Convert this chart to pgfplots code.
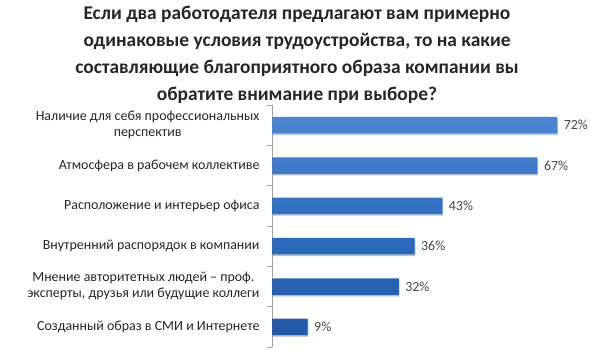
\documentclass[border=0pt]{standalone}
\usepackage{pgfplots}
\pgfplotsset{compat=1.18}
\usetikzlibrary{shadows}
\usepackage{fontspec}
\setmainfont{Carlito}
\definecolor{bartop}{RGB}{78,132,210}
\definecolor{barmid}{RGB}{46,108,190}
\definecolor{barbot}{RGB}{36,88,165}
\definecolor{txt}{RGB}{38,38,38}
\definecolor{axgray}{RGB}{160,160,160}
\begin{document}
\begin{tikzpicture}
\fill[white] (0,0) rectangle (600bp,361bp);
\node[font=\fontsize{19.5}{27}\selectfont\bfseries, align=center, text=txt, anchor=north] at (297bp,358bp)
{Если два работодателя предлагают вам примерно\\одинаковые условия трудоустройства, то на какие\\составляющие благоприятного образа компании вы\\обратите внимание при выборе?};
\begin{axis}[
  at={(272bp,14bp)}, anchor=south west,
  scale only axis, width=317bp, height=242bp,
  xbar, bar width=16.5bp,
  xmin=0, xmax=80,
  ymin=-0.5, ymax=5.5, y dir=reverse,
  axis x line=none,
  axis y line*=left,
  y axis line style={axgray, line width=0.6pt},
  ytick={0,1,2,3,4,5},
  yticklabels={{\begin{tabular}{@{}c@{}}Наличие для себя профессиональных\\перспектив\end{tabular}},
    {Атмосфера в рабочем коллективе},
    {Расположение и интерьер офиса},
    {Внутренний распорядок в компании},
    {\begin{tabular}{@{}c@{}}Мнение авторитетных людей -- проф.\\эксперты, друзья или будущие коллеги\end{tabular}},
    {Созданный образ в СМИ и Интернете}},
  yticklabel style={font=\fontsize{14}{16}\selectfont, text=txt, xshift=-9bp},
  major tick length=0pt,
  minor ytick={-0.5,0.5,1.5,2.5,3.5,4.5,5.5},
  minor tick length=5bp,
  tick align=outside,
  minor tick style={axgray, line width=0.6pt},
  /pgf/number format/assume math mode=true,
  nodes near coords={\pgfmathprintnumber{\pgfplotspointmeta}\%},
  nodes near coords style={font=\fontsize{14}{16}\selectfont, text=txt!85, anchor=west, xshift=3bp},
  point meta=x,
  clip=false,
]
\addplot[draw=none, top color=bartop, bottom color=barbot, middle color=barmid,
  drop shadow={opacity=0.25, shadow xshift=0.6bp, shadow yshift=-1.6bp}]
  coordinates {(72,0) (67,1) (43,2) (36,3) (32,4) (9,5)};
\end{axis}
\pgfresetboundingbox
\useasboundingbox (0,0) rectangle (600bp,361bp);
\end{tikzpicture}
\end{document}
